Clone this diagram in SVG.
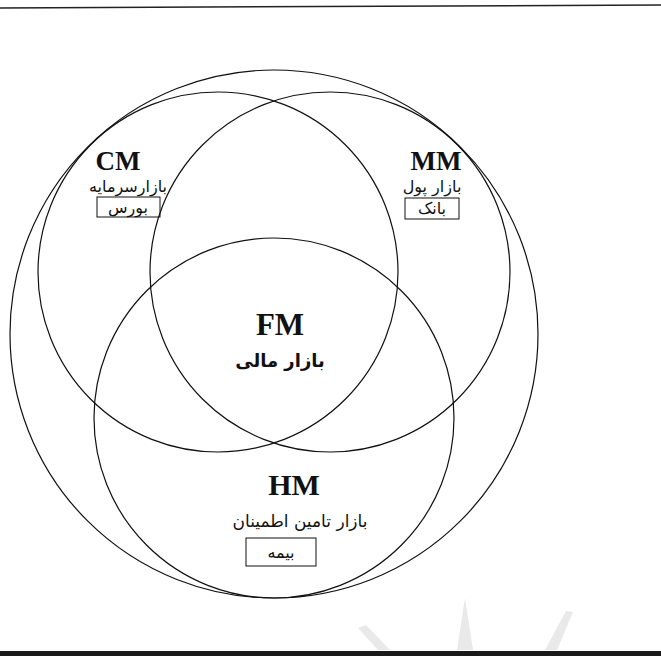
<svg xmlns="http://www.w3.org/2000/svg" width="661" height="656" viewBox="0 0 661 656">
<style>
.c{fill:none;stroke:#111;stroke-width:1.2}
.b{fill:none;stroke:#111;stroke-width:1}
.lat{font-family:"Liberation Serif",serif;font-weight:bold;fill:#111;text-anchor:middle}
.fa{font-family:"DejaVu Sans","Noto Sans",sans-serif;fill:#111;text-anchor:middle}
</style>
<rect width="661" height="656" fill="#fff"/>
<line x1="0" y1="8" x2="661" y2="5" stroke="#222" stroke-width="1.5"/>
<g id="watermark" fill="#e9e9e9">
<polygon points="457,650 465,598 473,650"/>
<polygon points="358,628 366,625 390,650 378,650"/>
<polygon points="573,612 566,611 545,650 557,650"/>
</g>
<rect x="0" y="651" width="661" height="5" fill="#1a1a1a"/>
<g id="outer"><circle class="c" cx="274" cy="334" r="264"/></g>
<g id="CM">
<circle class="c" cx="218" cy="272" r="180"/>
<text class="lat" x="118" y="170" font-size="27">CM</text>
<text class="fa" x="128" y="192" font-size="16">بازارسرمایه</text>
<rect class="b" x="97" y="197" width="63" height="20"/>
<text class="fa" x="128" y="213" font-size="16">بورس</text>
</g>
<g id="MM">
<circle class="c" cx="330" cy="272" r="180"/>
<text class="lat" x="436" y="170" font-size="27">MM</text>
<text class="fa" x="432" y="192" font-size="16">بازار پول</text>
<rect class="b" x="405" y="198" width="54" height="21"/>
<text class="fa" x="432" y="214" font-size="16">بانک</text>
</g>
<g id="HM">
<circle class="c" cx="274" cy="418" r="180"/>
<text class="lat" x="294" y="495" font-size="30">HM</text>
<text class="fa" x="300" y="527" font-size="17">بازار تامین اطمینان</text>
<rect class="b" x="246" y="538" width="70" height="28"/>
<text class="fa" x="281" y="558" font-size="16">بیمه</text>
</g>
<g id="FM">
<text class="lat" x="280" y="335" font-size="31">FM</text>
<text class="fa" x="280" y="367" font-size="18" font-weight="bold">بازار مالی</text>
</g>
<g id="connectors"/>
</svg>
